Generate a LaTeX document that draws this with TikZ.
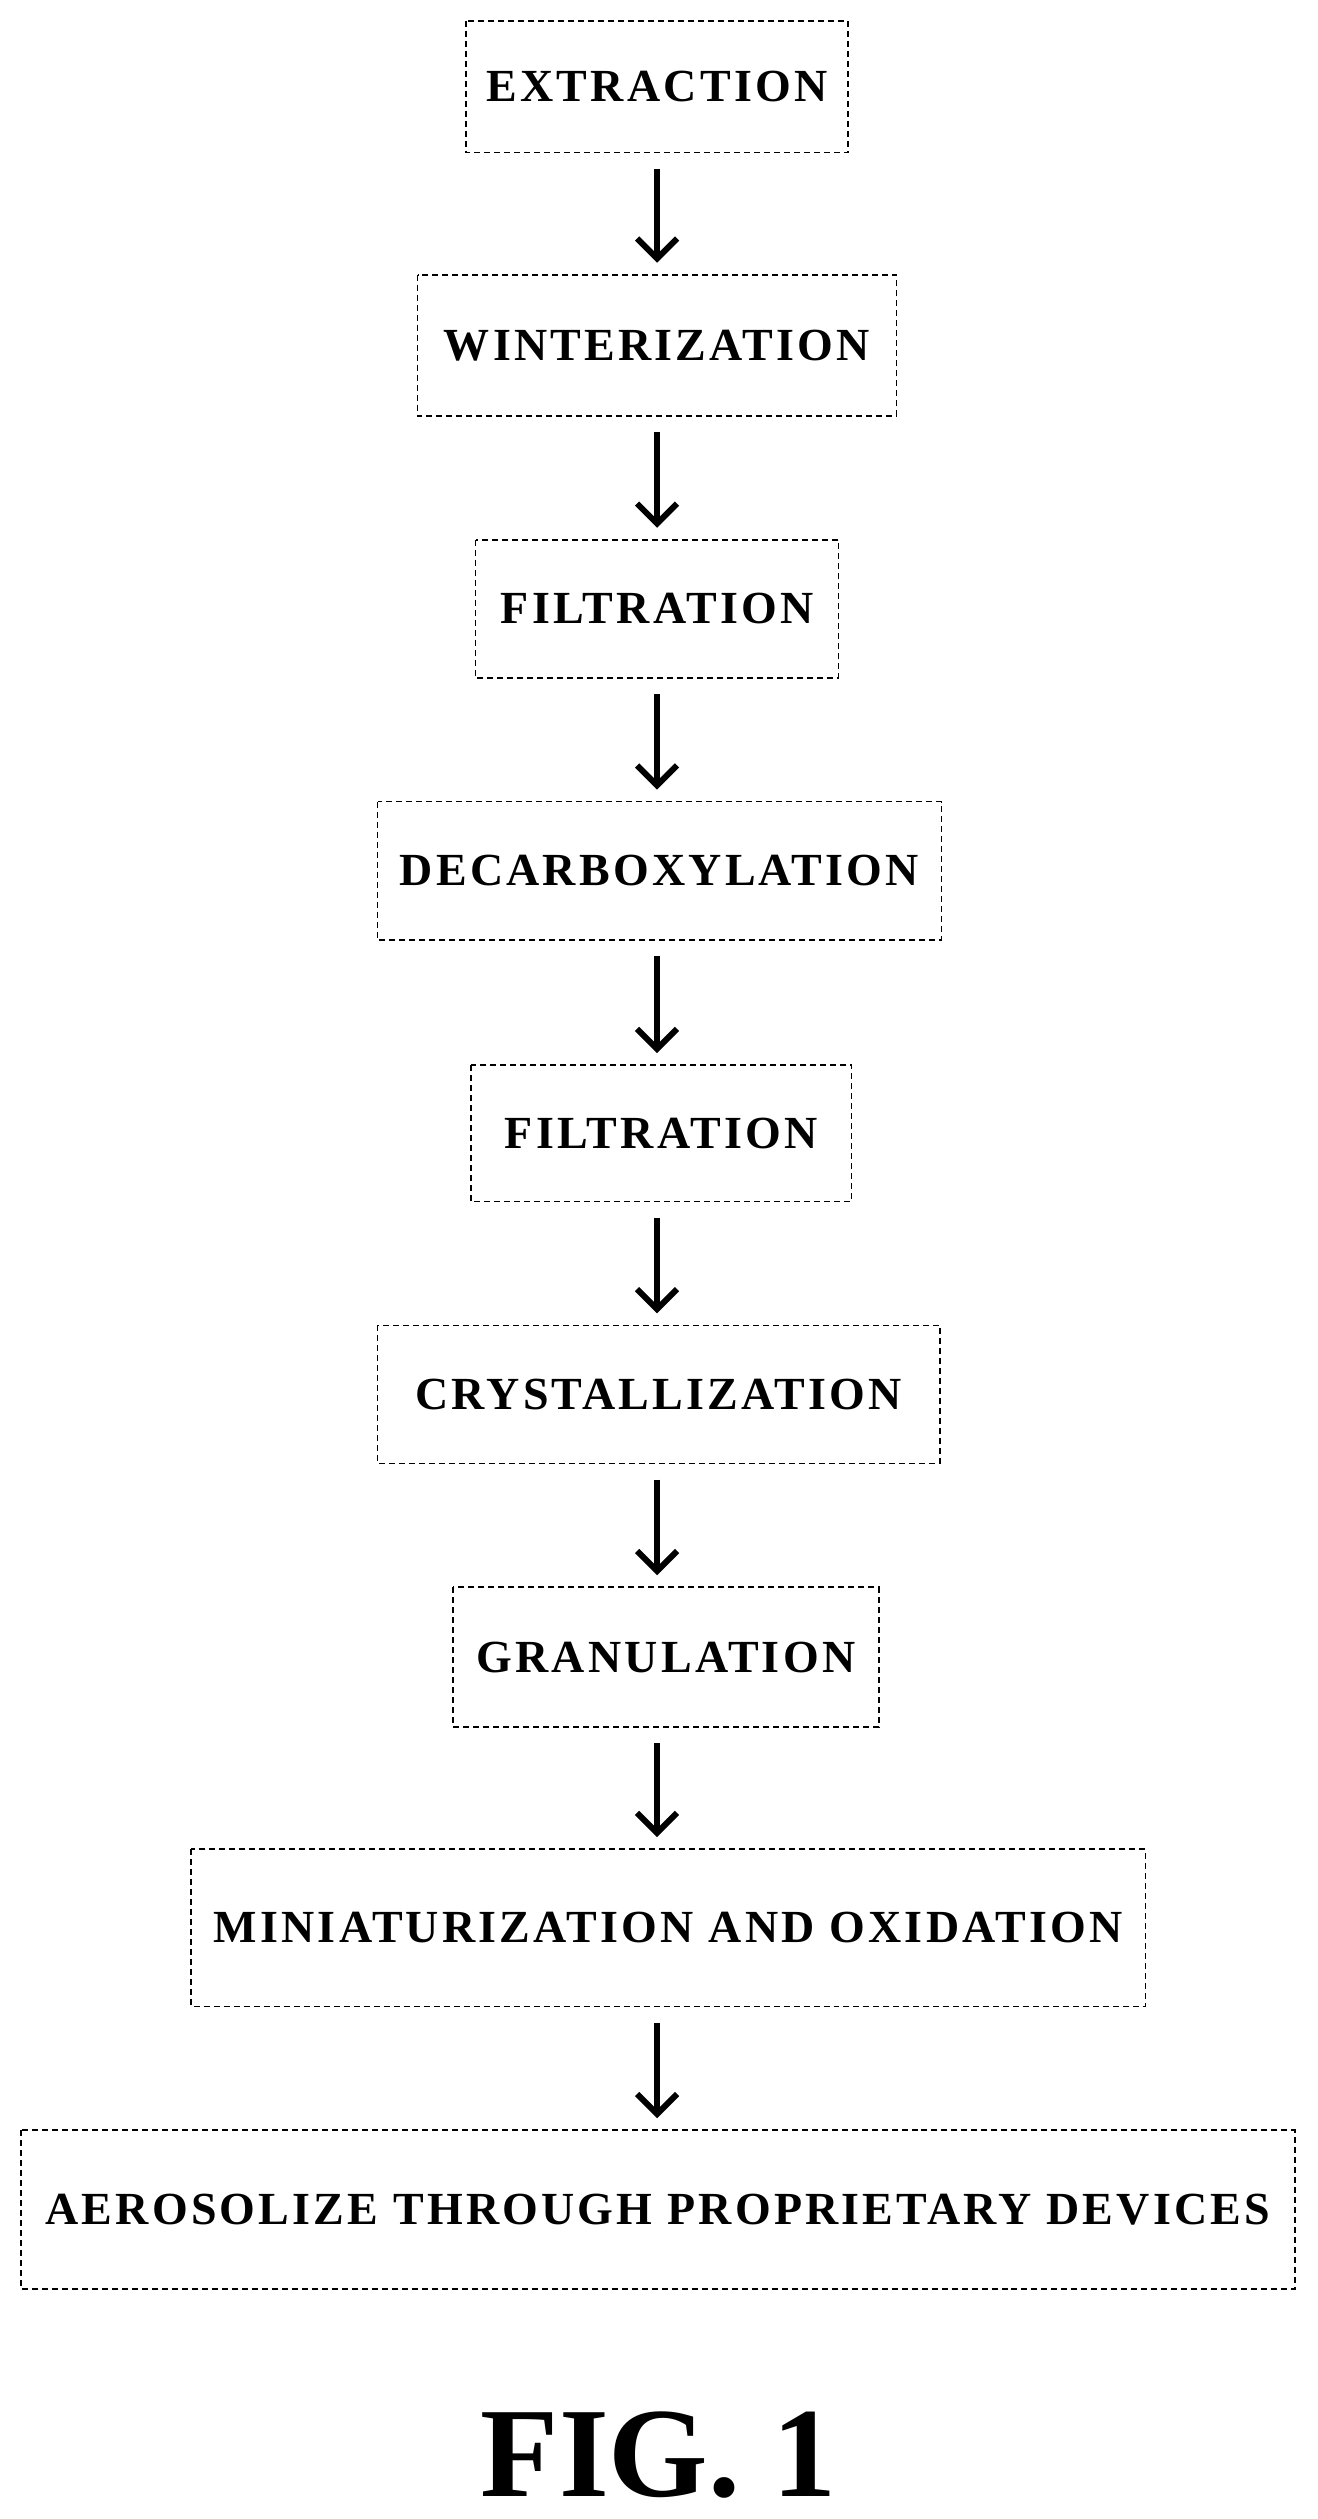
\documentclass[tikz,border=0pt]{standalone}
\usepackage{fontspec}
\setmainfont{Liberation Serif}
\newfontfamily\spaced[LetterSpace=7]{Liberation Serif}
\usetikzlibrary{arrows.meta}
\begin{document}
\begin{tikzpicture}[x=0.8035pt,y=-0.8035pt,
 box/.style={draw, densely dashed, line width=0.8pt},
 lbl/.style={font=\spaced\bfseries\fontsize{23}{26}\selectfont},
 arr/.style={line width=3pt, -{Straight Barb[length=10pt,width=20pt,line width=3pt]}}]
\useasboundingbox (0,0) rectangle (820,1568);
\def\bx#1#2#3#4#5#6{\draw[box] (#2,#4) rectangle (#3,#5); \node[lbl] (#1) at ({(#2+#3)/2},{(#4+#5)/2}) {#6};
 \coordinate (#1t) at (409,#4); \coordinate (#1b) at (409,#5);}
\bx{a}{290}{528}{13}{95}{EXTRACTION}
\bx{b}{260}{558}{171}{259}{WINTERIZATION}
\bx{c}{296}{522}{336}{422}{FILTRATION}
\bx{d}{235}{586}{499}{585}{DECARBOXYLATION}
\bx{e}{293}{530}{663}{748}{FILTRATION}
\bx{f}{235}{585}{825}{911}{CRYSTALLIZATION}
\bx{g}{282}{547}{988}{1075}{GRANULATION}
\bx{h}{119}{713}{1151}{1249}{MINIATURIZATION AND OXIDATION}
\bx{i}{13}{806}{1326}{1425}{AEROSOLIZE THROUGH PROPRIETARY DEVICES}
\foreach \p/\q in {a/b,b/c,c/d,d/e,e/f,f/g,g/h,h/i}{
 \draw[arr] ([yshift=-8]\p b) -- ([yshift=6]\q t);}
\node[font=\bfseries\fontsize{64}{70}\selectfont] (fig) at (410,1528) {FIG. 1};
\end{tikzpicture}
\end{document}
